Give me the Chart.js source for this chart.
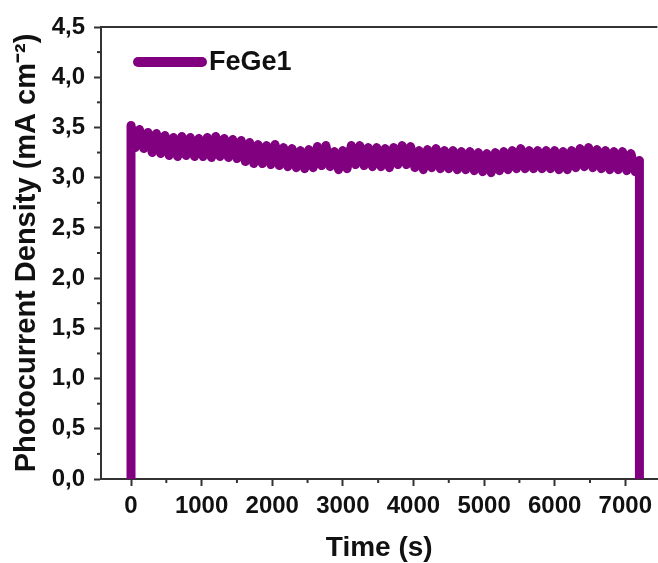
<!DOCTYPE html>
<html>
<head>
<meta charset="utf-8">
<script src="https://cdn.jsdelivr.net/npm/chart.js@4.4.1/dist/chart.umd.min.js"></script>
<style>
    html, body { margin: 0; padding: 0; background: #fff; overflow: hidden; }
    #wrap { width: 658px; height: 563px; position: relative; }
</style>
</head>
<body>
<div id="wrap"><canvas id="photoChart"></canvas></div>
<script>
// Time stamps (s) - first and last repeated for the switch on / switch off
var timeS = [
    0, 0, 60, 120, 180, 240, 300, 360, 420, 480, 540,
    600, 660, 720, 780, 840, 900, 960, 1020, 1080, 1140,
    1200, 1260, 1320, 1380, 1440, 1500, 1560, 1620, 1680, 1740,
    1800, 1860, 1920, 1980, 2040, 2100, 2160, 2220, 2280, 2340,
    2400, 2460, 2520, 2580, 2640, 2700, 2760, 2820, 2880, 2940,
    3000, 3060, 3120, 3180, 3240, 3300, 3360, 3420, 3480, 3540,
    3600, 3660, 3720, 3780, 3840, 3900, 3960, 4020, 4080, 4140,
    4200, 4260, 4320, 4380, 4440, 4500, 4560, 4620, 4680, 4740,
    4800, 4860, 4920, 4980, 5040, 5100, 5160, 5220, 5280, 5340,
    5400, 5460, 5520, 5580, 5640, 5700, 5760, 5820, 5880, 5940,
    6000, 6060, 6120, 6180, 6240, 6300, 6360, 6420, 6480, 6540,
    6600, 6660, 6720, 6780, 6840, 6900, 6960, 7020, 7080, 7140,
    7200, 7200
];

// Photocurrent density (mA cm-2), FeGe1 (noisy signal)
var currentFeGe1 = [
    0, 3.52, 3.30, 3.48, 3.29, 3.45, 3.25, 3.44, 3.24, 3.42, 3.22,
    3.40, 3.21, 3.41, 3.22, 3.40, 3.21, 3.39, 3.21, 3.40, 3.20,
    3.41, 3.21, 3.39, 3.20, 3.38, 3.19, 3.37, 3.16, 3.35, 3.14,
    3.33, 3.14, 3.32, 3.13, 3.33, 3.12, 3.30, 3.11, 3.29, 3.10,
    3.27, 3.09, 3.28, 3.10, 3.31, 3.12, 3.32, 3.11, 3.26, 3.08,
    3.27, 3.09, 3.32, 3.13, 3.32, 3.12, 3.30, 3.11, 3.30, 3.11,
    3.29, 3.10, 3.30, 3.13, 3.32, 3.13, 3.31, 3.10, 3.27, 3.08,
    3.28, 3.10, 3.29, 3.09, 3.27, 3.09, 3.27, 3.08, 3.26, 3.08,
    3.26, 3.07, 3.25, 3.06, 3.24, 3.05, 3.25, 3.07, 3.26, 3.08,
    3.27, 3.09, 3.29, 3.09, 3.27, 3.09, 3.27, 3.09, 3.27, 3.09,
    3.27, 3.08, 3.26, 3.08, 3.27, 3.10, 3.29, 3.11, 3.30, 3.10,
    3.28, 3.09, 3.27, 3.08, 3.26, 3.08, 3.26, 3.07, 3.24, 3.06,
    3.17, 0
];

var xTicks = [0, 1000, 2000, 3000, 4000, 5000, 6000, 7000];
var yTicks = [0, 0.5, 1, 1.5, 2, 2.5, 3, 3.5, 4, 4.5];

var seriesName = 'FeGe1';
var purple = '#800080';
var axisColor = '#333333';
var fontFamily = "'Liberation Sans', Arial, sans-serif";

var points = timeS.map(function (t, i) { return { x: t, y: currentFeGe1[i] }; });

// Frame top line, minor ticks and the legend sample
var decorPlugin = {
    id: 'decor',
    afterDraw: function (chart) {
        var ctx = chart.ctx;
        var area = chart.chartArea;
        var xs = chart.scales.x;
        var ys = chart.scales.y;
        ctx.save();
        ctx.strokeStyle = axisColor;
        ctx.lineWidth = 2;
        ctx.beginPath();
        ctx.moveTo(area.left - 1, area.top);
        ctx.lineTo(area.right, area.top);
        ctx.stroke();

        // minor ticks
        for (var i = 0; i < yTicks.length - 1; i++) {
            var yv = (yTicks[i] + yTicks[i + 1]) / 2;
            var py = ys.getPixelForValue(yv);
            ctx.beginPath();
            ctx.moveTo(area.left, py);
            ctx.lineTo(area.left - 4, py);
            ctx.stroke();
        }
        for (var j = 0; j < xTicks.length - 1; j++) {
            var xv = (xTicks[j] + xTicks[j + 1]) / 2;
            var px = xs.getPixelForValue(xv);
            ctx.beginPath();
            ctx.moveTo(px, area.bottom);
            ctx.lineTo(px, area.bottom + 4);
            ctx.stroke();
        }

        // legend
        var ly = 62;
        ctx.strokeStyle = purple;
        ctx.lineWidth = 10;
        ctx.lineCap = 'round';
        ctx.beginPath();
        ctx.moveTo(138, ly);
        ctx.lineTo(202, ly);
        ctx.stroke();
        ctx.fillStyle = '#111';
        ctx.font = 'bold 27px ' + fontFamily;
        ctx.textBaseline = 'middle';
        ctx.textAlign = 'left';
        ctx.fillText(seriesName, 209, ly + 1);
        ctx.restore();
    }
};

var ctx = document.getElementById('photoChart').getContext('2d');
var photoChart = new Chart(ctx, {
    type: 'line',
    data: {
        datasets: [{
            label: seriesName,
            data: points,
            borderColor: purple,
            backgroundColor: purple,
            borderWidth: 9,
            borderJoinStyle: 'round',
            borderCapStyle: 'butt',
            pointRadius: 0,
            tension: 0,
            fill: false
        }]
    },
    options: {
        responsive: true,
        maintainAspectRatio: false,
        animation: false,
        events: [],
        layout: { padding: { top: 27, right: 0, bottom: 0, left: 0 } },
        plugins: {
            legend: { display: false },
            tooltip: { enabled: false }
        },
        scales: {
            x: {
                type: 'linear',
                min: -425,
                max: 7455,
                afterFit: function (s) { s.height = 84; },
                afterBuildTicks: function (s) {
                    s.ticks = xTicks.map(function (v) { return { value: v }; });
                },
                grid: {
                    drawOnChartArea: false,
                    drawTicks: true,
                    tickLength: 7,
                    tickWidth: 2,
                    tickColor: axisColor
                },
                border: { display: true, color: axisColor, width: 2 },
                ticks: {
                    color: '#111',
                    padding: 6,
                    maxRotation: 0,
                    font: { family: fontFamily, size: 24, weight: 'bold' },
                    callback: function (v) { return String(v); }
                },
                title: {
                    display: true,
                    text: 'Time (s)',
                    color: '#111',
                    padding: { top: 0, bottom: -2 },
                    font: { family: fontFamily, size: 28, weight: 'bold' }
                }
            },
            y: {
                min: 0,
                max: 4.5,
                afterFit: function (s) { s.width = 101; },
                afterBuildTicks: function (s) {
                    s.ticks = yTicks.map(function (v) { return { value: v }; });
                },
                grid: {
                    drawOnChartArea: false,
                    drawTicks: true,
                    tickLength: 7,
                    tickWidth: 2,
                    tickColor: axisColor
                },
                border: { display: true, color: axisColor, width: 2 },
                ticks: {
                    color: '#111',
                    padding: 9,
                    font: { family: fontFamily, size: 24, weight: 'bold' },
                    callback: function (v) { return v.toFixed(1).replace('.', ','); }
                },
                title: {
                    display: true,
                    text: 'Photocurrent Density (mA cm\u207B\u00B2)',
                    color: '#111',
                    padding: { top: 10, bottom: 0 },
                    font: { family: fontFamily, size: 29, weight: 'bold' }
                }
            }
        }
    },
    plugins: [decorPlugin]
});
</script>
</body>
</html>
